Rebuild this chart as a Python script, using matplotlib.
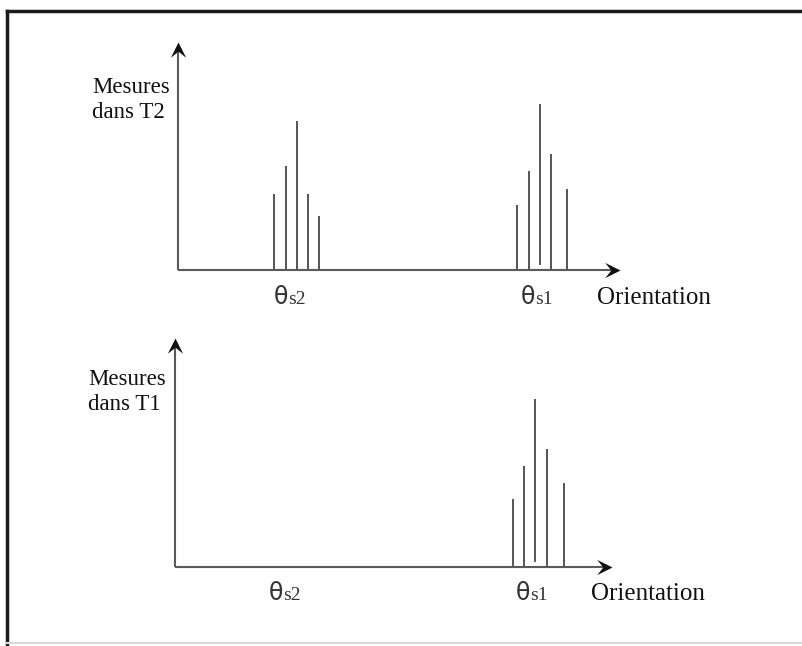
import matplotlib
matplotlib.use("Agg")
import matplotlib.pyplot as plt
from matplotlib.lines import Line2D
from matplotlib.markers import MarkerStyle
from matplotlib.path import Path

plt.rcParams["font.family"] = ["Liberation Serif", "DejaVu Serif"]

# mesures dans T2 (panneau du haut), positions relatives à l'origine des axes
t2_orient_s2 = [96, 108, 119, 130, 141]
t2_mesure_s2 = [76, 104, 149, 76, 54]
t2_base_s2 = [0, 0, 0, 0, 0]
t2_orient_s1 = [339, 351, 362, 373, 389]
t2_mesure_s1 = [65, 99, 166, 116, 81]
t2_base_s1 = [0, 0, 5, 0, 0]

# mesures dans T1 (panneau du bas)
t1_orient_s1 = [338, 349, 360, 372, 389]
t1_mesure_s1 = [68, 101, 168, 118, 84]
t1_base_s1 = [0, 0, 5, 0, 0]

W, H = 802, 646

# pointe de flèche type "stealth"
head = Path([(0, 0), (-1, 0.5), (-0.6, 0), (-1, -0.5), (0, 0)],
            [Path.MOVETO, Path.LINETO, Path.LINETO, Path.LINETO, Path.CLOSEPOLY])


def make_axes(fig, ox, oy, xmax, ymax):
    # axes en unités pixel, origine au coin des axes
    ax = fig.add_axes([ox / W, (H - oy) / H, xmax / W, ymax / H])
    ax.set_xlim(0, xmax)
    ax.set_ylim(0, ymax)
    ax.axis("off")
    return ax


def theta_label(ax, x, y, sub):
    ax.text(x, y, "θ", fontsize=17, ha="right", va="baseline",
            color="#333333", family=["DejaVu Sans"])
    ax.text(x, y, sub, fontsize=14, ha="left", va="baseline",
            color="#333333")


fig = plt.figure(figsize=(W / 100, H / 100), dpi=100)

# panneau du haut
ax1 = make_axes(fig, 178, 270, 462, 240)
ax1.vlines(t2_orient_s2, t2_base_s2, t2_mesure_s2, color="#555555", lw=1.4)
ax1.vlines(t2_orient_s1, t2_base_s1, t2_mesure_s1, color="#555555", lw=1.4)
ax1.text(-86, 170, "Mesures\ndans T2", fontsize=16.5, ha="left", va="center",
         linespacing=1.25, color="#111111")
theta_label(ax1, 110, -34, "s2")
theta_label(ax1, 357, -34, "s1")
ax1.text(419, -34, "Orientation", fontsize=18, ha="left", va="baseline",
         color="#111111")

# panneau du bas
ax2 = make_axes(fig, 175, 567, 462, 240)
ax2.vlines(t1_orient_s1, t1_base_s1, t1_mesure_s1, color="#555555", lw=1.4)
ax2.text(-87, 175, "Mesures\ndans T1", fontsize=16.5, ha="left", va="center",
         linespacing=1.25, color="#111111")
theta_label(ax2, 108, -33, "s2")
theta_label(ax2, 355, -33, "s1")
ax2.text(416, -33, "Orientation", fontsize=18, ha="left", va="baseline",
         color="#111111")

# flèches des axes (dessinées après les barres)
for ax, xt, yt in [(ax1, 442, 228), (ax2, 437, 229)]:
    ax.plot([0, xt - 6], [0, 0], color="#5a5a5a", lw=1.5, clip_on=False,
            solid_capstyle="butt")
    ax.plot([0, 0], [0, yt - 6], color="#5a5a5a", lw=1.5, clip_on=False,
            solid_capstyle="butt")
    ax.plot(xt, 0, marker=head, markersize=22, color="#111111",
            clip_on=False, markeredgewidth=0)
    ax.plot(0, yt, marker=MarkerStyle(head).rotated(deg=90),
            markersize=22, color="#111111", clip_on=False, markeredgewidth=0)

# cadre
fig.add_artist(Line2D([7 / W, 7 / W], [0, (H - 11) / H], color="#1a1a1a",
                      lw=2.5, transform=fig.transFigure))
fig.add_artist(Line2D([7 / W, 1], [(H - 11) / H, (H - 11) / H],
                      color="#1a1a1a", lw=2.5, transform=fig.transFigure))
fig.add_artist(Line2D([7 / W, 1], [(H - 643) / H, (H - 643) / H],
                      color="#d8d8d8", lw=1.5, transform=fig.transFigure))

fig.savefig("out.png", dpi=100)
